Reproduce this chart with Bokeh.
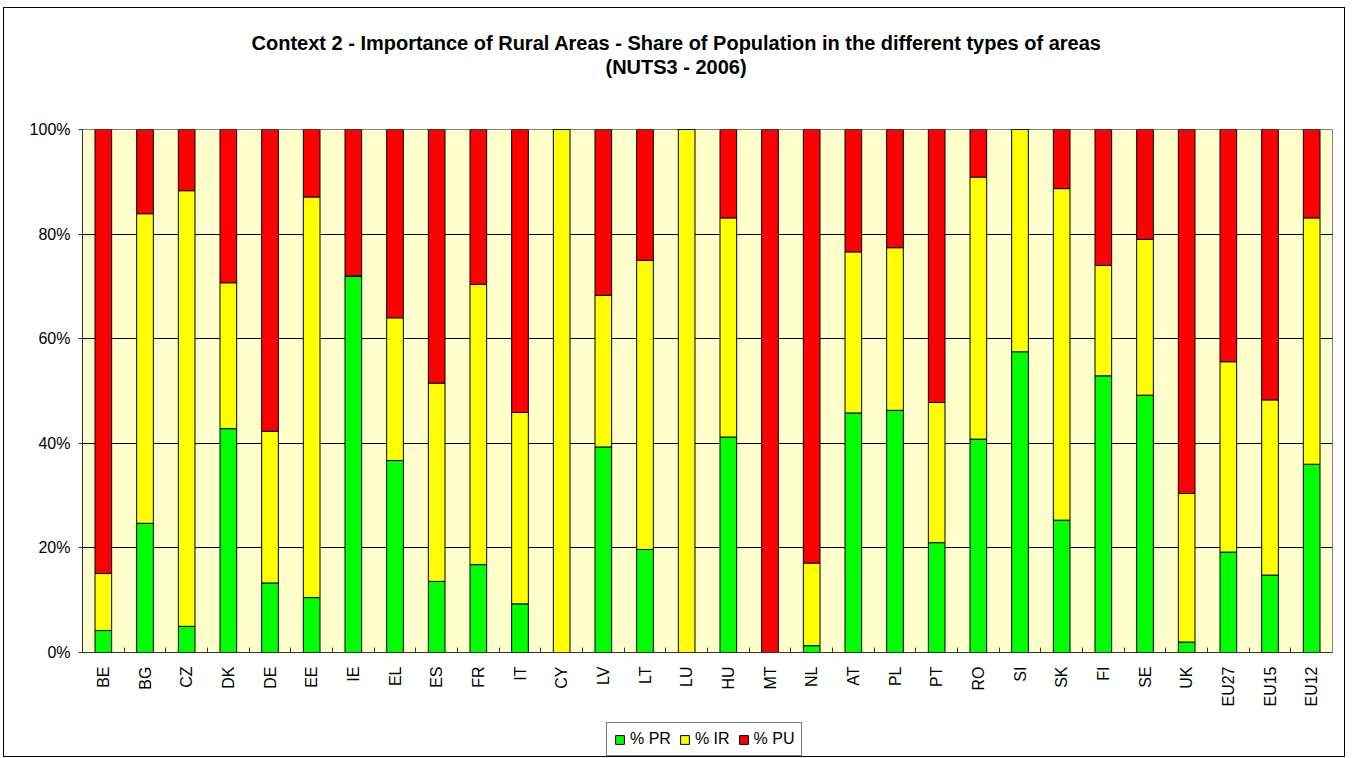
from bokeh.plotting import figure
from bokeh.layouts import column
from bokeh.models import (FixedTicker, NumeralTickFormatter, Title, Legend, LegendItem,
                          ColumnDataSource, Range1d, CDSView, IndexFilter)
from bokeh.embed import file_html
from bokeh.resources import INLINE

countries = ["BE", "BG", "CZ", "DK", "DE", "EE", "IE", "EL", "ES", "FR", "IT", "CY", "LV", "LT", "LU",
             "HU", "MT", "NL", "AT", "PL", "PT", "RO", "SI", "SK", "FI", "SE", "UK", "EU27", "EU15", "EU12"]
pct_pr = [4.2, 24.7, 5.0, 42.8, 13.3, 10.5, 72.0, 36.7, 13.6, 16.8, 9.3, 0.0, 39.3, 19.7, 0.0,
          41.2, 0.0, 1.3, 45.8, 46.3, 21.0, 40.8, 57.5, 25.3, 52.9, 49.2, 2.0, 19.2, 14.8, 36.0]
pct_ir = [10.9, 59.2, 83.3, 27.9, 29.0, 76.6, 0.0, 27.3, 37.9, 53.6, 36.6, 100.0, 29.0, 55.3, 100.0,
          41.9, 0.0, 15.8, 30.8, 31.1, 26.8, 50.1, 42.5, 63.4, 21.1, 29.8, 28.4, 36.4, 33.5, 47.1]
pct_pu = [84.9, 16.1, 11.7, 29.3, 57.7, 12.9, 28.0, 36.0, 48.5, 29.6, 54.1, 0.0, 31.7, 25.0, 0.0,
          16.9, 100.0, 82.9, 23.4, 22.6, 52.2, 9.1, 0.0, 11.3, 26.0, 21.0, 69.6, 44.4, 51.7, 16.9]
series_names = ["% PR", "% IR", "% PU"]
series_colors = ["#00FF00", "#FFFF00", "#FF0000"]
y_ticks = [0, 0.2, 0.4, 0.6, 0.8, 1.0]
title_line1 = "Context 2 - Importance of Rural Areas - Share of Population in the different types of areas"
title_line2 = "(NUTS3 - 2006)"

n = len(countries)
xs = [i + 0.5 for i in range(n)]
source = ColumnDataSource(dict(
    x=xs,
    pr=[v / 100 for v in pct_pr],
    ir=[v / 100 for v in pct_ir],
    pu=[v / 100 for v in pct_pu],
))

FONT = "Liberation Sans"

p = figure(frame_width=1250, frame_height=523,
           min_border_left=78, min_border_right=12, min_border_top=121, min_border_bottom=66,
           x_range=Range1d(0, n), y_range=Range1d(0, 1),
           output_backend="svg", toolbar_location=None, tools="")
p.background_fill_color = "#FFFFCC"
p.border_fill_color = "white"
p.outline_line_color = "#808080"
p.outline_line_width = 1

p.vbar_stack(["pr", "ir", "pu"], x="x", width=0.4, source=source,
             fill_color=series_colors, line_color="black", line_width=1)

# titles (first added sits nearest the frame)
spacer = Title(text=" ", text_font_size="1px", standoff=49)
t2 = Title(text=title_line2, align="left", offset=523, text_font=FONT, text_font_size="20px",
           text_font_style="bold", text_color="black", standoff=0)
t1 = Title(text=title_line1, align="left", offset=169, text_font=FONT, text_font_size="20px",
           text_font_style="bold", text_color="black", standoff=0)
p.add_layout(spacer, "above")
p.add_layout(t2, "above")
p.add_layout(t1, "above")

# x axis
xa = p.xaxis[0]
xa.ticker = FixedTicker(ticks=xs, minor_ticks=list(range(1, n)))
xa.major_label_overrides = {x: c for x, c in zip(xs, countries)}
xa.major_label_orientation = 3.14159265 / 2
xa.major_label_text_font = FONT
xa.major_label_text_font_size = "16px"
xa.major_label_text_color = "black"
xa.major_label_standoff = 14
xa.major_tick_in = 0
xa.major_tick_out = 0
xa.minor_tick_in = 5
xa.minor_tick_out = 0
xa.minor_tick_line_color = "#333333"
xa.axis_line_color = "#333333"

# y axis
ya = p.yaxis[0]
ya.ticker = FixedTicker(ticks=y_ticks)
ya.formatter = NumeralTickFormatter(format="0%")
ya.major_label_text_font = FONT
ya.major_label_text_font_size = "16px"
ya.major_label_text_color = "black"
ya.major_label_standoff = 8
ya.major_tick_in = 0
ya.major_tick_out = 4
ya.minor_tick_line_color = None
ya.axis_line_color = "#333333"
ya.major_tick_line_color = "#333333"

p.xgrid.visible = False
p.ygrid.ticker = FixedTicker(ticks=y_ticks[1:-1])
p.ygrid.grid_line_color = "black"
p.ygrid.grid_line_width = 1

# legend strip below the chart: same series (one row kept so the legend can draw its swatches;
# that row sits behind the opaque legend box)
lp = figure(width=1340, height=38, x_range=Range1d(0, n), y_range=Range1d(0, 2),
            min_border_left=0, min_border_right=0, min_border_top=0, min_border_bottom=0,
            x_axis_type=None, y_axis_type=None,
            output_backend="svg", toolbar_location=None, tools="")
lp.outline_line_color = None
lp.background_fill_color = "white"
lp.border_fill_color = "white"
lp.grid.visible = False
one_row = CDSView(filter=IndexFilter([countries.index("MT")]))
leg_renderers = lp.vbar_stack(["pr", "ir", "pu"], x="x", width=0.4, source=source, view=one_row,
                              fill_color=series_colors, line_color="black", line_width=1)
legend = Legend(items=[LegendItem(label=nm, renderers=[r]) for nm, r in zip(series_names, leg_renderers)],
                location=(524, 0), orientation="horizontal",
                border_line_color="black", border_line_width=1,
                background_fill_color="white", background_fill_alpha=1,
                padding=7, spacing=8, margin=0, label_standoff=5,
                glyph_width=11, glyph_height=11, label_height=15,
                label_text_font=FONT, label_text_font_size="16px", label_text_color="black")
lp.add_layout(legend, "center")

layout = column(p, lp, spacing=0,
                styles={"border": "1px solid black", "margin-left": "3px", "margin-top": "7px"})

open("out.html", "w").write(file_html(layout, INLINE))
